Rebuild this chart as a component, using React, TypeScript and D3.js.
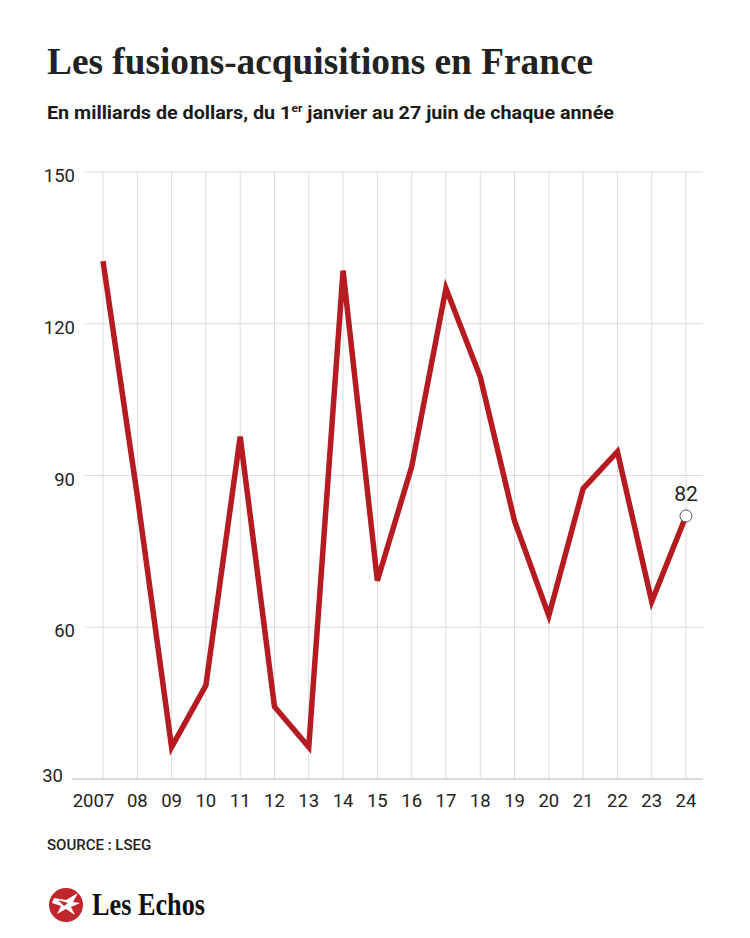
import React from "react";
import * as d3 from "d3";

const years: string[] = ["2007","08","09","10","11","12","13","14","15","16","17","18","19","20","21","22","23","24"];
const values: number[] = [132.4, 86, 36.3, 48.5, 97.7, 44.3, 36.3, 130.5, 69.2, 91.7, 127.0, 109.5, 81.0, 62.3, 87.4, 94.7, 65.1, 82];
const yTicks: number[] = [30, 60, 90, 120, 150];
const lastLabel = "82";

const W = 750, H = 938;
const SANS = "Roboto, 'Liberation Sans', sans-serif";

export default function App() {
  const x = d3.scaleLinear().domain([0, years.length - 1]).range([103, 686]);
  const y = d3.scaleLinear().domain([30, 150]).range([779, 172]);
  const line = d3.line<number>().x((_, i) => x(i)).y((d) => y(d));
  const last = values.length - 1;

  return (
    <svg width={W} height={H} style={{ position: "absolute", left: 0, top: 0, background: "#fff" }}>
      <rect width={W} height={H} fill="#fff" />
      <text x={47} y={74} fontFamily="'Liberation Serif', serif" fontWeight={700} fontSize={37}
        fill="#222" textLength={546} lengthAdjust="spacingAndGlyphs">Les fusions-acquisitions en France</text>
      <text x={47} y={119} fontFamily="Roboto, sans-serif" fontWeight={700} fontSize={18}
        fill="#1a1a1a" textLength={567} lengthAdjust="spacingAndGlyphs">
        En milliards de dollars, du 1<tspan fontSize={11} dy={-7}>er</tspan><tspan dy={7}> janvier au 27 juin de chaque année</tspan>
      </text>

      {/* vertical grid */}
      {years.map((_, i) => (
        <line key={"v" + i} x1={x(i)} x2={x(i)} y1={y(150)} y2={y(30)} stroke="#dcdcdc" strokeWidth={1} />
      ))}
      {/* horizontal grid */}
      {yTicks.map((t) => (
        <line key={"h" + t} x1={t === 30 ? 72 : 85} x2={703} y1={y(t)} y2={y(t)}
          stroke={t === 30 ? "#d0d0d0" : "#dcdcdc"} strokeWidth={t === 30 ? 1.5 : 1} />
      ))}
      {yTicks.map((t) => (
        <text key={"yl" + t} x={t === 30 ? 63 : 75} y={t === 30 ? y(t) + 3 : y(t) + 10} textAnchor="end"
          fontFamily={SANS} fontSize={18.5} fill="#222">{t}</text>
      ))}
      {years.map((lab, i) => (
        <text key={"xl" + i} x={i === 0 ? x(i) - 9.5 : x(i)} y={807} textAnchor="middle" fontFamily={SANS} fontSize={18.5} fill="#222">{lab}</text>
      ))}

      <path d={line(values) || ""} fill="none" stroke="#b51b21" strokeWidth={5.5} strokeLinejoin="miter" strokeLinecap="butt" />
      <circle cx={x(last)} cy={y(values[last])} r={6} fill="#fff" stroke="#555" strokeWidth={1} />
      <text x={x(last)} y={y(values[last]) - 15} textAnchor="middle" fontFamily={SANS} fontSize={21} fill="#222">{lastLabel}</text>

      <text x={47} y={850} fontFamily={SANS} fontWeight={500} fontSize={15} fill="#222">SOURCE : LSEG</text>

      {/* logo */}
      <g>
        <circle cx={66} cy={905} r={17} fill="#c0262b" />
        <path d="M54,898 L66,900 L78,893 L73,902 L80,903 L71,907 L75,915 L66,909 L57,914 L61,906 L52,903 Z" fill="#fff" />
        <path d="M58,900 L68,903 L64,906 Z" fill="#c0262b" />
      </g>
      <text x={92} y={915} fontFamily="'Liberation Serif', serif" fontWeight={700} fontSize={31} fill="#111"
        textLength={113} lengthAdjust="spacingAndGlyphs">Les Echos</text>
    </svg>
  );
}
